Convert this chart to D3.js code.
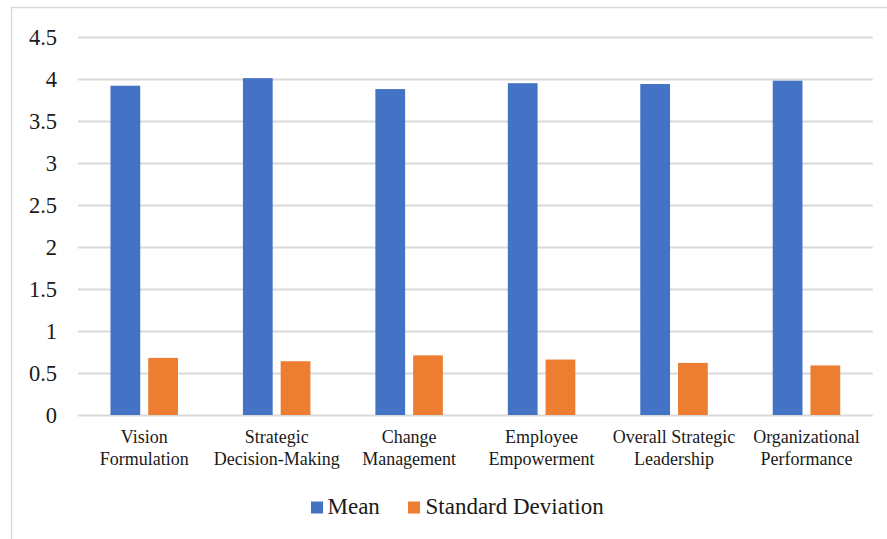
<!DOCTYPE html>
<html>
<head>
<meta charset="utf-8">
<script src="https://cdn.jsdelivr.net/npm/d3@7"></script>
</head>
<body style="margin:0;padding:0;background:#fff;">
<svg id="chart" width="887" height="539" style="display:block"></svg>
<script>
const categories = [
  ["Vision","Formulation"],
  ["Strategic","Decision-Making"],
  ["Change","Management"],
  ["Employee","Empowerment"],
  ["Overall Strategic","Leadership"],
  ["Organizational","Performance"]
];
const seriesNames = ["Mean","Standard Deviation"];
const meanValues = [3.92, 4.01, 3.88, 3.95, 3.94, 3.98];
const sdValues = [0.68, 0.64, 0.71, 0.66, 0.62, 0.59];
const yTicks = [0, 0.5, 1, 1.5, 2, 2.5, 3, 3.5, 4, 4.5];
const colors = ["#4472C4", "#ED7D31"];

(function(){
const svg = d3.select("#chart");
const FONT = '"Liberation Serif"';

// outer border
svg.append("rect").attr("x", 11.5).attr("y", 7.5).attr("width", 900).attr("height", 600)
  .attr("fill", "none").attr("stroke", "#d9d9d9").attr("stroke-width", 1.5);

const pLeft = 78, pRight = 872.7, pTop = 37, pBottom = 415;
const y = d3.scaleLinear().domain([0, 4.5]).range([pBottom, pTop]);
const x0 = d3.scaleBand().domain(d3.range(categories.length)).range([pLeft, pRight]);
const groupW = 67.5, gap = 8;
const x1 = d3.scaleBand().domain([0, 1]).range([0, groupW]).paddingInner(gap / ((groupW + gap) / 2));
const groupOffset = (x0.bandwidth() - groupW) / 2;

// gridlines
svg.append("g").selectAll("line").data(yTicks).join("line")
  .attr("x1", pLeft).attr("x2", pRight)
  .attr("y1", d => Math.round(y(d)) + 0.5).attr("y2", d => Math.round(y(d)) + 0.5)
  .attr("stroke", "#d9d9d9").attr("stroke-width", 2);

// y axis labels
const yAxis = d3.axisLeft(y).tickValues(yTicks).tickSize(0).tickPadding(0).tickFormat(d => String(d));
const yg = svg.append("g").attr("transform", `translate(57,0)`).call(yAxis);
yg.select(".domain").remove();
yg.selectAll("text").style("font-family", FONT).style("font-size", "22.5px").attr("fill", "#1a1a1a").attr("dy", "0.32em");

const data = categories.map((c, i) => [meanValues[i], sdValues[i]]);
const groups = svg.append("g").selectAll("g").data(data).join("g")
  .attr("transform", (d, i) => `translate(${x0(i) + groupOffset},0)`);
groups.selectAll("rect").data(d => d).join("rect")
  .attr("x", (d, j) => x1(j))
  .attr("width", x1.bandwidth())
  .attr("y", d => y(d))
  .attr("height", d => pBottom - y(d))
  .attr("fill", (d, j) => colors[j]);

// category labels
const xg = svg.append("g");
categories.forEach((c, i) => {
  const cx = x0(i) + x0.bandwidth() / 2;
  const t = xg.append("text")
    .attr("text-anchor", "middle")
    .style("font-family", FONT).style("font-size", "18px").attr("fill", "#1a1a1a");
  c.forEach((line, k) => {
    t.append("tspan").attr("x", cx).attr("y", 443 + k * 21.6).text(line);
  });
});

// legend
const legendItems = [{x: 311, tx: 327.5}, {x: 408, tx: 425.5}];
const lg = svg.append("g");
seriesNames.forEach((s, i) => {
  lg.append("rect").attr("x", legendItems[i].x).attr("y", 501.5).attr("width", 12).attr("height", 12).attr("fill", colors[i]);
  lg.append("text").attr("x", legendItems[i].tx).attr("y", 514.3)
    .style("font-family", FONT).style("font-size", "23px").attr("fill", "#1a1a1a").text(s);
});
})();
</script>
</body>
</html>
